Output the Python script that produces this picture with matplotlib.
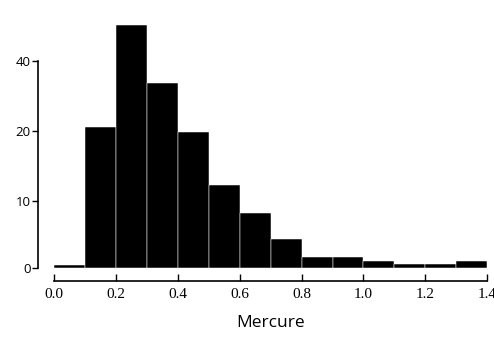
import matplotlib
matplotlib.use('Agg')
import matplotlib.pyplot as plt
from matplotlib.ticker import FixedLocator, FixedFormatter, NullLocator

# histogram bins (Mercure) and bar heights
bin_left = [0.0, 0.1, 0.2, 0.3, 0.4, 0.5, 0.6, 0.7, 0.8, 0.9, 1.0, 1.1, 1.2, 1.3]
counts = [5.3, 20.8, 57.0, 32.1, 19.8, 11.7, 8.9, 6.9, 5.75, 5.75, 5.55, 5.35, 5.35, 5.55]
bin_width = 0.1

y_bottom = 5.15   # baseline of the axis, labelled "0"
y_ticks = [y_bottom, 10, 20, 40]
y_labels = ['0', '10', '20', '40']
x_ticks = [0.0, 0.2, 0.4, 0.6, 0.8, 1.0, 1.2, 1.4]

fig = plt.figure(figsize=(4.94, 3.39), dpi=100)
ax = fig.add_axes([0.110, 0.209, 0.876, 0.732])

ax.bar(bin_left, [c - y_bottom for c in counts], width=bin_width, bottom=y_bottom,
       align='edge', color='black', edgecolor='white', linewidth=0.35)

ax.set_yscale('log', base=2)
ax.set_ylim(y_bottom, 60)
ax.set_xlim(0, 1.4)

ax.yaxis.set_major_locator(FixedLocator(y_ticks))
ax.yaxis.set_major_formatter(FixedFormatter(y_labels))
ax.yaxis.set_minor_locator(NullLocator())
ax.set_xticks(x_ticks)
ax.set_xticklabels(['%.1f' % t for t in x_ticks])

ax.spines['top'].set_visible(False)
ax.spines['right'].set_visible(False)
ax.spines['left'].set_position(('outward', 12))
ax.spines['bottom'].set_position(('outward', 9.5))
ax.spines['left'].set_bounds(y_bottom, 40)
ax.spines['bottom'].set_bounds(0, 1.4)
ax.spines['left'].set_linewidth(1.2)
ax.spines['bottom'].set_linewidth(1.2)

ax.tick_params(axis='y', direction='out', length=4, width=1, pad=1)
ax.tick_params(axis='x', direction='in', length=5, width=1, pad=5)

for lab in ax.get_xticklabels():
    lab.set_family('Liberation Serif')
    lab.set_fontsize(11)
for lab in ax.get_yticklabels():
    lab.set_family('Open Sans')
    lab.set_fontsize(9.5)

ax.set_xlabel('Mercure', family='Open Sans', fontsize=12.5, labelpad=10)

fig.savefig('out.png', dpi=100)
